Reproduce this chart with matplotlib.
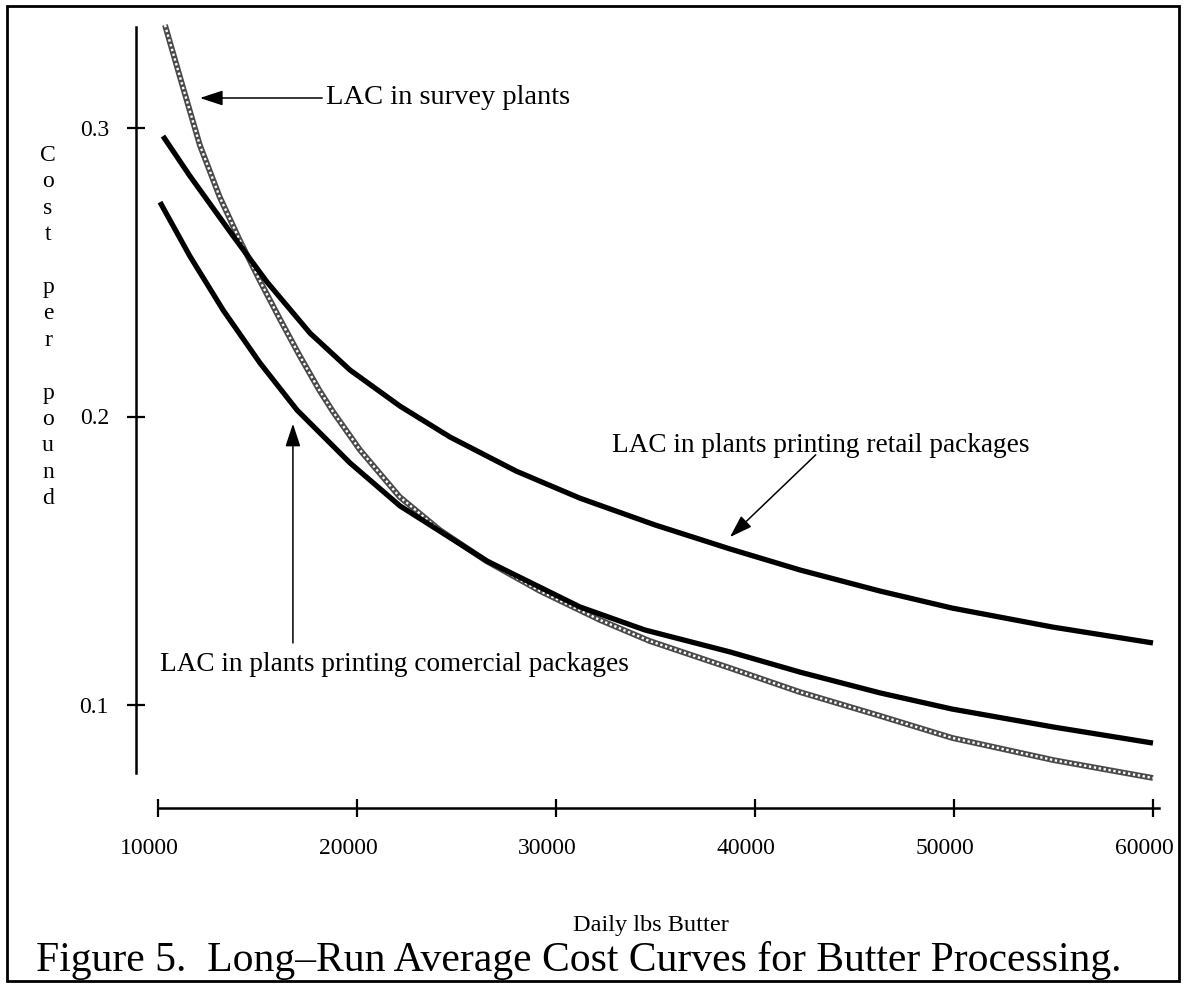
import matplotlib
matplotlib.use("Agg")
import matplotlib.pyplot as plt
from matplotlib.transforms import ScaledTranslation
from matplotlib.patches import Rectangle

plt.rcParams['font.family'] = ['Liberation Serif', 'DejaVu Serif']

# ---------------- data ----------------
survey_x = [10350, 11250, 12100, 13100, 14100, 15100, 16100, 17100, 18100, 18800,
            20150, 22150, 24150, 26500, 29200, 32200, 34700, 38750, 42250, 46300,
            49900, 55000, 60000]
survey_y = [0.3357, 0.3142, 0.2941, 0.2761, 0.2612, 0.2473, 0.2341, 0.2213, 0.2092, 0.2016,
            0.1884, 0.1721, 0.1607, 0.1499, 0.1395, 0.1295, 0.1222, 0.1128, 0.1045, 0.0962,
            0.0886, 0.0809, 0.0747]

retail_x = [10250, 11600, 13770, 15480, 17640, 19650, 22160, 24670, 27990, 31200,
            34980, 38740, 42260, 46280, 49900, 54970, 60000]
retail_y = [0.2972, 0.2834, 0.2626, 0.2466, 0.2289, 0.2161, 0.2036, 0.1929, 0.1811, 0.1717,
            0.1624, 0.1541, 0.1468, 0.1395, 0.1336, 0.1270, 0.1215]

comm_x = [10100, 11600, 13270, 15130, 16990, 19650, 22160, 26530, 31200, 34470,
          38740, 42260, 46280, 49900, 54970, 60000]
comm_y = [0.2743, 0.2556, 0.2369, 0.2185, 0.2022, 0.1839, 0.1690, 0.1499, 0.1340, 0.1260,
          0.1184, 0.1114, 0.1042, 0.0986, 0.0924, 0.0868]

x_ticks = [10000, 20000, 30000, 40000, 50000, 60000]
y_ticks = [0.1, 0.2, 0.3]
y_tick_labels = ['0.1', '0.2', '0.3']

title = "Figure 5.  Long\u2013Run Average Cost Curves for Butter Processing."
xlabel = "Daily lbs Butter"
ylabel_letters = "C\no\ns\nt\n\np\ne\nr\n\np\no\nu\nn\nd"
lab_survey = "LAC in survey plants"
lab_retail = "LAC in plants printing retail packages"
lab_comm = "LAC in plants printing comercial packages"

# ---------------- figure ----------------
W, H = 1188, 993
fig = plt.figure(figsize=(W / 100, H / 100), dpi=100)
fig.patch.set_facecolor('white')

def fx(px):
    return px / W

def fy(py):
    return 1 - py / H

# axes: x 10000..60000 -> px 158..1153 ; y 0.1..0.3 -> py 705..128
ax = fig.add_axes([fx(158), fy(705), (1153 - 158) / W, (705 - 128) / H])
ax.set_xlim(10000, 60000)
ax.set_ylim(0.1, 0.3)
ax.patch.set_alpha(0)

for s in ['top', 'right']:
    ax.spines[s].set_visible(False)
pt = 72 / 100  # points per pixel
ax.spines['left'].set_position(('outward', (158 - 136) * pt))
ax.spines['left'].set_bounds(0.0764, 0.335)
ax.spines['bottom'].set_position(('outward', (808 - 705) * pt))
ax.spines['bottom'].set_bounds(10000, 60300)
for s in ['left', 'bottom']:
    ax.spines[s].set_linewidth(1.8)

ax.set_xticks(x_ticks)
ax.set_xticklabels([str(v) for v in x_ticks])
ax.set_yticks(y_ticks)
ax.set_yticklabels(y_tick_labels)
ax.tick_params(axis='both', direction='inout', length=13, width=1.6,
               labelsize=17, colors='black')
ax.tick_params(axis='x', pad=15)
ax.tick_params(axis='y', pad=13)
off = ScaledTranslation(-9 / 100, 0, fig.dpi_scale_trans)
for lab in ax.get_xticklabels():
    lab.set_transform(lab.get_transform() + off)

# curves
ax.plot(survey_x, survey_y, color='#4a4a4a', lw=4.2, clip_on=False,
        solid_capstyle='butt', solid_joinstyle='round', zorder=3)
ax.plot(survey_x, survey_y, color='white', lw=1.7, clip_on=False,
        linestyle=(0, (1.0, 1.1)), zorder=4)
ax.plot(retail_x, retail_y, color='black', lw=3.8, clip_on=False,
        solid_capstyle='butt', solid_joinstyle='round', zorder=5)
ax.plot(comm_x, comm_y, color='black', lw=3.8, clip_on=False,
        solid_capstyle='butt', solid_joinstyle='round', zorder=5)

arrow_kw = dict(arrowstyle='-|>,head_length=1.0,head_width=0.33',
                color='black', lw=1.1, shrinkA=0, shrinkB=0,
                mutation_scale=14)

# survey annotation
ax.annotate('', xy=(12110, 0.3104), xytext=(18250, 0.3104),
            arrowprops=arrow_kw, annotation_clip=False)
ax.text(18440, 0.3104, lab_survey, fontsize=20.5, va='center', ha='left',
        clip_on=False)

# retail annotation
ax.annotate('', xy=(38740, 0.1582), xytext=(43050, 0.1867),
            arrowprops=arrow_kw, annotation_clip=False)
ax.text(32810, 0.1901, lab_retail, fontsize=19.6, va='center', ha='left',
        clip_on=False)

# commercial annotation
ax.annotate('', xy=(16780, 0.1975), xytext=(16780, 0.1215),
            arrowprops=arrow_kw, annotation_clip=False)
ax.text(10100, 0.1139, lab_comm, fontsize=19.6, va='center', ha='left',
        clip_on=False)

# axis labels
fig.text(fx(48), fy(327), ylabel_letters, fontsize=17, ha='center',
         va='center', linespacing=1.34, multialignment='center')
fig.text(fx(651), fy(925), xlabel, fontsize=17.5, ha='center', va='center')

# title
fig.text(fx(579), fy(961), title, fontsize=30, ha='center', va='center')

# border
border = Rectangle((fx(7), fy(981)), fx(1179) - fx(7), fy(6) - fy(981),
                   transform=fig.transFigure, fill=False, lw=2.0,
                   edgecolor='black')
fig.patches.append(border)

fig.savefig('out.png', dpi=100, facecolor='white')
